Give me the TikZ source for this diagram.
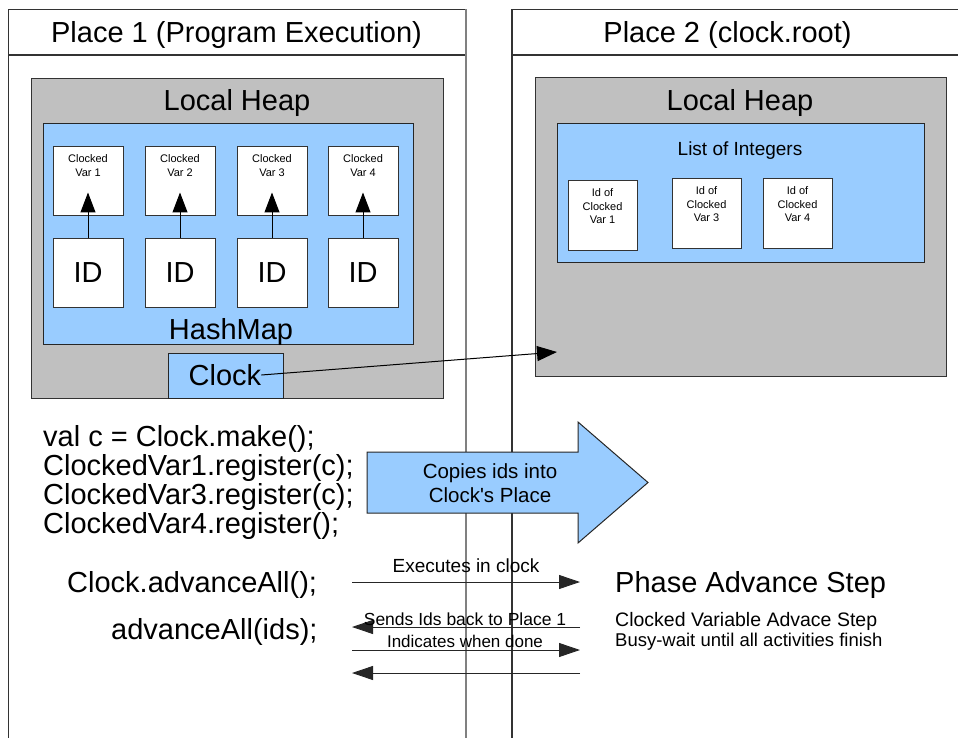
\documentclass[tikz,border=0pt]{standalone}
\usepackage{fontspec}
\setmainfont{Liberation Sans}
\usetikzlibrary{arrows.meta}
\definecolor{heapgrey}{HTML}{C0C0C0}
\definecolor{mapblue}{HTML}{99CCFF}
\definecolor{edgegrey}{HTML}{333333}
\definecolor{laneline}{HTML}{808080}
\begin{document}
\begin{tikzpicture}[x=1pt,y=-1pt,
  big/.style={font=\fontsize{29}{34}\selectfont},
  tiny/.style={font=\fontsize{11}{13.5}\selectfont},
  lane/.style={draw=edgegrey, line width=1.2pt},
  heap/.style={draw=edgegrey, fill=heapgrey, line width=1pt, inner sep=0pt},
  blue/.style={draw=black!85, fill=mapblue, line width=1pt, inner sep=0pt},
  cell/.style={draw=edgegrey, fill=white, line width=1pt, inner sep=0pt,
    minimum width=70pt, minimum height=69pt},
  celltext/.style={tiny, align=center, anchor=north, inner sep=8pt},
  txt/.style={inner sep=0pt},
  tip/.style={-{Triangle[length=20pt,width=15pt]}, line width=1pt},
  flow/.style={-{Triangle[length=21pt,width=14pt]}, line width=0.9pt, draw=black!85}
]
\useasboundingbox (0,0) rectangle (958,738);

% ---- the two places ----
\draw[lane] (8.5,740) -- (8.5,9.5) -- (466,9.5);
\draw[lane] (8.5,55) -- (466,55);
\draw[draw=laneline, line width=1.8pt] (466,9.5) -- (466,740);
\draw[lane] (512,740) -- (512,9.5) -- (960,9.5);
\draw[lane] (512,55) -- (960,55);
\node[big, txt, anchor=base] (p1title) at (236.5,43) {Place 1 (Program Execution)};
\node[big, txt, anchor=base] (p2title) at (727.5,43) {Place 2 (clock.root)};

% ---- place 1: local heap with hash map ----
\node[heap, minimum width=412pt, minimum height=319pt] (heap1) at (237,238.5) {};
\node[big, txt, anchor=base] (heap1t) at (237,111) {Local Heap};
\node[blue, minimum width=370pt, minimum height=220pt] (map) at (228,234) {};
\node[big, txt, anchor=base] (mapt) at (231,339) {HashMap};

\foreach \i/\x in {1/88,2/180,3/272,4/363}{
  \node[cell, label={[celltext]north:Clocked\\Var \i}] (var\i) at (\x,181.5) {};
  \node[cell, big] (id\i) at (\x,272.5) {ID};
  \draw[tip] (id\i.north) -- ([yshift=-11pt]var\i.center);
}

\node[blue, minimum width=115pt, minimum height=45pt] (clockbox) at (225.5,375.5) {};
\node[big, txt] (clockt) at (225,375) {Clock};

% ---- place 2: local heap with list of ids ----
\node[heap, minimum width=411pt, minimum height=298pt] (heap2) at (740.5,227) {};
\node[big, txt, anchor=base] (heap2t) at (740,111) {Local Heap};
\node[blue, minimum width=367pt, minimum height=138pt] (list) at (740.5,193) {};
\node[font=\fontsize{19}{23}\selectfont, txt, anchor=base] (listt) at (740,156) {List of Integers};
\node[cell, minimum width=69pt, label={[celltext]north:Id of\\Clocked\\Var 1}] (lid1) at (602.5,215.5) {};
\node[cell, minimum width=69pt, label={[celltext]north:Id of\\Clocked\\Var 3}] (lid3) at (706.5,213.5) {};
\node[cell, minimum width=69pt, label={[celltext]north:Id of\\Clocked\\Var 4}] (lid4) at (797.5,213.5) {};

\coordinate (heap2in) at (557,352);
\draw[tip] (clockt.east) -- (heap2in);

% ---- program text ----
\node[big, txt, anchor=base west] (code1) at (43,446) {val c = Clock.make();};
\node[big, txt, anchor=base west] (code2) at (43,475) {ClockedVar1.register(c);};
\node[big, txt, anchor=base west] (code3) at (43,504) {ClockedVar3.register(c);};
\node[big, txt, anchor=base west] (code4) at (43,533) {ClockedVar4.register();};
\node[big, txt, anchor=base west] (code5) at (67,592) {Clock.advanceAll();};
\node[big, txt, anchor=base west] (code6) at (111,639) {advanceAll(ids);};

% ---- copy step ----
\draw[draw=black!85, fill=mapblue, line width=1pt]
  (367,452) -- (578,452) -- (578,422) -- (648,482.5) -- (578,543) -- (578,513) -- (367,513) -- cycle;
\node[txt, align=center, font=\fontsize{20.5}{24}\selectfont] (copyt) at (490,483) {Copies ids into\\Clock\textquotesingle s Place};

% ---- advance messages ----
\coordinate (m1l) at (352,582); \coordinate (m1r) at (580,582);
\coordinate (m2l) at (352,627); \coordinate (m2r) at (580,627);
\coordinate (m3l) at (352,650); \coordinate (m3r) at (580,650);
\coordinate (m4l) at (352,673); \coordinate (m4r) at (580,673);
\draw[flow] (m1l) -- (m1r);
\draw[flow] (m2r) -- (m2l);
\draw[flow] (m3l) -- (m3r);
\draw[flow] (m4r) -- (m4l);
\node[font=\fontsize{19}{23}\selectfont, txt, anchor=base] (m1t) at (466,572) {Executes in clock};
\node[font=\fontsize{17.5}{21}\selectfont, txt, anchor=base] (m2t) at (465,625) {Sends Ids back to Place 1};
\node[font=\fontsize{17}{21}\selectfont, txt, anchor=base] (m3t) at (465,647) {Indicates when done};

\node[big, txt, anchor=base west] (phase) at (615,592) {Phase Advance Step};
\node[font=\fontsize{19.5}{23}\selectfont, txt, anchor=base west] (step1) at (615,626) {Clocked Variable Advace Step};
\node[font=\fontsize{18.5}{22}\selectfont, txt, anchor=base west] (step2) at (615,646) {Busy-wait until all activities finish};
\end{tikzpicture}
\end{document}
